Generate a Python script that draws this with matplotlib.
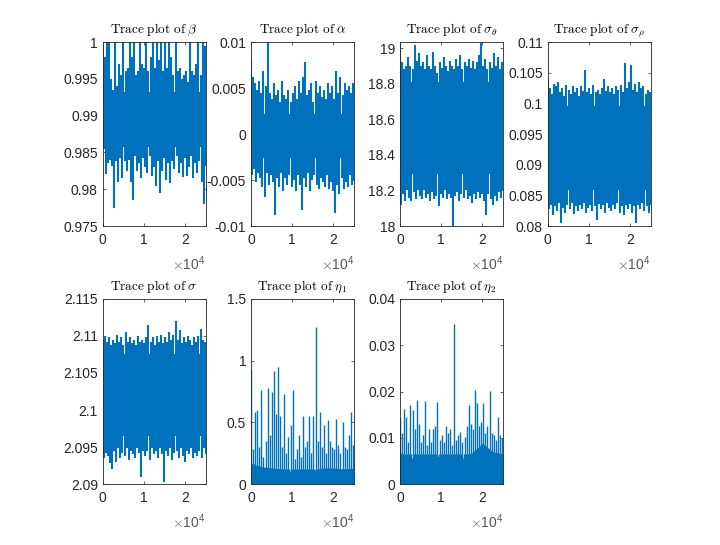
import numpy as np
import matplotlib
matplotlib.use("Agg")
from matplotlib import pyplot as plt

plt.rcParams["font.family"] = ["Liberation Sans", "DejaVu Sans"]
plt.rcParams["mathtext.fontset"] = "cm"

N_ITER = 25000
BLUE = "#0072BD"
AXIS_COLOR = "#262626"

beta_hi = [1.0, 0.998, 1.0, 1.0, 0.995, 0.9935, 1.0, 0.994, 0.997, 0.9955,
           1.0, 0.996, 0.9965, 1.0, 0.998, 1.0, 0.9955, 0.996, 1.0, 0.997,
           0.9965, 1.0, 0.996, 0.998, 1.0, 0.9965, 1.0, 0.9975, 1.0, 0.996,
           1.0, 0.9965, 1.0, 0.998, 0.9955, 1.0, 0.996, 0.9965, 0.995, 0.9955,
           0.996, 0.9945, 1.0, 0.996, 0.9955, 0.997, 1.0, 0.9955, 1.0, 0.9995]
beta_lo = [0.9855, 0.982, 0.9835, 0.984, 0.9832, 0.9775, 0.9838, 0.981, 0.9842, 0.9815,
           0.9838, 0.9825, 0.984, 0.981, 0.9785, 0.9845, 0.9825, 0.9835, 0.9815, 0.9843,
           0.983, 0.9822, 0.9845, 0.9818, 0.983, 0.9805, 0.9838, 0.9795, 0.9825, 0.9842,
           0.9812, 0.9835, 0.9808, 0.9838, 0.9828, 0.9845, 0.9822, 0.9835, 0.9817, 0.9842,
           0.9818, 0.983, 0.9845, 0.9815, 0.9835, 0.9822, 0.9838, 0.981, 0.978, 0.9832]
beta_core = ([0.9858], [0.9932])

alpha_hi = [0.0081, 0.0062, 0.0055, 0.0048, 0.0058, 0.0045, 0.0068, 0.0052, 0.0101, 0.0045,
            0.0038, 0.0055, 0.0042, 0.0048, 0.0035, 0.0058, 0.0042, 0.0038, 0.0048, 0.0035,
            0.0045, 0.0052, 0.0038, 0.0058, 0.0045, 0.0062, 0.0078, 0.0042, 0.0048, 0.0055,
            0.0035, 0.0058, 0.0045, 0.0052, 0.004, 0.0048, 0.0038, 0.0055, 0.0045, 0.0052,
            0.0038, 0.0068, 0.0045, 0.0062, 0.0042, 0.0055, 0.0048, 0.0052, 0.0045, 0.0055]
alpha_lo = [-0.0045, -0.0038, -0.0052, -0.0042, -0.0048, -0.0058, -0.0068, -0.0042, -0.0055, -0.0045,
            -0.0052, -0.0088, -0.0048, -0.0058, -0.0042, -0.0062, -0.0048, -0.0055, -0.0045, -0.0058,
            -0.005, -0.0062, -0.0045, -0.0055, -0.0083, -0.0048, -0.0058, -0.0042, -0.0062, -0.005,
            -0.0045, -0.0055, -0.006, -0.0048, -0.0052, -0.0058, -0.0045, -0.006, -0.0052, -0.0062,
            -0.0086, -0.0055, -0.0065, -0.0048, -0.006, -0.0052, -0.0058, -0.0045, -0.0055, -0.005]
alpha_core = ([-0.0026], [0.0022])

sig_theta_hi = [19.03, 18.92, 18.88, 18.9, 18.95, 18.9, 18.88, 19.02, 18.93, 18.97,
                18.9, 18.92, 18.88, 18.96, 18.9, 18.88, 18.98, 18.9, 18.86, 18.92,
                18.89, 18.95, 18.9, 18.87, 18.93, 18.9, 18.88, 18.94, 18.9, 18.96,
                18.88, 18.92, 18.9, 18.94, 18.89, 18.93, 18.88, 18.92, 18.96, 19.03,
                18.9, 18.94, 18.88, 18.92, 18.89, 18.97, 18.9, 18.95, 18.88, 18.92]
sig_theta_lo = [18.12, 18.18, 18.14, 18.2, 18.16, 18.14, 18.19, 18.15, 18.2, 18.17,
                18.15, 18.2, 18.16, 18.18, 18.14, 18.19, 18.15, 18.17, 18.11, 18.18,
                18.16, 18.2, 18.15, 18.18, 18.16, 18.0, 18.17, 18.19, 18.14, 18.18,
                18.16, 18.2, 18.15, 18.17, 18.13, 18.18, 18.15, 18.19, 18.16, 18.18,
                18.14, 18.06, 18.18, 18.15, 18.12, 18.17, 18.14, 18.19, 18.16, 18.2]
sig_theta_core = ([18.29], [18.81])

sig_rho_hi = [0.1042, 0.1025, 0.1015, 0.1032, 0.1028, 0.1035, 0.1018, 0.1025, 0.1012, 0.103,
              0.1022, 0.1015, 0.1028, 0.1018, 0.1025, 0.1012, 0.1028, 0.102, 0.1055, 0.1018,
              0.1025, 0.1015, 0.103, 0.1018, 0.1022, 0.1015, 0.1025, 0.104, 0.102, 0.1028,
              0.1018, 0.1025, 0.1015, 0.1028, 0.1022, 0.103, 0.1018, 0.1065, 0.1025, 0.1035,
              0.1062, 0.1022, 0.1032, 0.1018, 0.1035, 0.1025, 0.1028, 0.1015, 0.1022, 0.1018]
sig_rho_lo = [0.0828, 0.0835, 0.0818, 0.0832, 0.0825, 0.0838, 0.0805, 0.083, 0.0822, 0.0835,
              0.0828, 0.0838, 0.082, 0.0832, 0.0825, 0.0835, 0.0828, 0.0838, 0.0822, 0.083,
              0.0835, 0.0825, 0.0832, 0.081, 0.0836, 0.0828, 0.0835, 0.0822, 0.0838, 0.083,
              0.0825, 0.0835, 0.0828, 0.0838, 0.0822, 0.0832, 0.0818, 0.0835, 0.0828, 0.0836,
              0.0822, 0.0832, 0.0805, 0.0835, 0.0828, 0.0838, 0.0825, 0.0832, 0.0822, 0.0835]
sig_rho_core = ([0.0858], [0.0996])

sigma_hi = [2.1095, 2.11, 2.1092, 2.1098, 2.1088, 2.1095, 2.109, 2.1102, 2.1092, 2.1098,
            2.1088, 2.1105, 2.1092, 2.1098, 2.109, 2.1095, 2.1088, 2.11, 2.1092, 2.1095,
            2.109, 2.1098, 2.1115, 2.1092, 2.1098, 2.1088, 2.11, 2.1092, 2.1102, 2.109,
            2.1098, 2.1092, 2.1105, 2.1095, 2.1102, 2.112, 2.1095, 2.1108, 2.109, 2.1098,
            2.1092, 2.11, 2.1095, 2.1088, 2.1098, 2.1092, 2.11, 2.111, 2.1095, 2.1092]
sigma_lo = [2.0935, 2.0942, 2.0938, 2.0928, 2.092, 2.0945, 2.093, 2.0948, 2.0935, 2.0942,
            2.0938, 2.0948, 2.0932, 2.0945, 2.094, 2.0935, 2.0948, 2.0942, 2.091, 2.0945,
            2.0938, 2.0945, 2.0932, 2.0948, 2.094, 2.0945, 2.0935, 2.0948, 2.094, 2.0903,
            2.0945, 2.0938, 2.0948, 2.0932, 2.0942, 2.0945, 2.0935, 2.0948, 2.0938, 2.093,
            2.0945, 2.094, 2.0948, 2.0935, 2.0942, 2.0938, 2.0945, 2.0935, 2.0948, 2.094]
sigma_core = ([2.0965], [2.1075])

eta1_hi = [0.93, 0.28, 0.58, 0.6, 0.3, 0.76, 0.22, 0.35, 0.78, 0.4,
           0.75, 0.92, 0.57, 0.95, 0.55, 0.3, 0.73, 0.25, 0.38, 0.48,
           0.76, 0.2, 0.28, 0.4, 0.22, 0.55, 0.3, 0.35, 0.55, 0.25,
           0.55, 1.27, 0.35, 0.58, 0.3, 0.48, 0.25, 0.52, 0.35, 0.3,
           0.28, 0.53, 0.32, 0.25, 0.5, 0.3, 0.28, 0.4, 0.58, 0.32]
eta1_lo = [0.01, 0.004, 0.012, 0.002, 0.008, 0.015, 0.003, 0.01, 0.005, 0.012,
           0.002, 0.009, 0.006, 0.013, 0.003, 0.008, 0.011, 0.004, 0.007, 0.002,
           0.01, 0.005, 0.012, 0.003, 0.009, 0.006, 0.011, 0.002, 0.008, 0.004,
           0.012, 0.006, 0.003, 0.01, 0.005, 0.009, 0.002, 0.011, 0.006, 0.004,
           0.01, 0.003, 0.008, 0.012, 0.005, 0.009, 0.002, 0.007, 0.011, 0.004]
eta1_core = ([0.0] * 11, [0.17, 0.14, 0.13, 0.12, 0.1, 0.1, 0.11, 0.13, 0.13, 0.12, 0.13])

eta2_hi = [0.0145, 0.011, 0.0162, 0.0145, 0.009, 0.0171, 0.016, 0.012, 0.0182, 0.013,
           0.009, 0.0105, 0.018, 0.0085, 0.012, 0.009, 0.012, 0.0125, 0.0178, 0.0095,
           0.0105, 0.009, 0.0125, 0.011, 0.012, 0.0085, 0.0345, 0.0095, 0.0105, 0.0112,
           0.009, 0.0102, 0.0125, 0.017, 0.013, 0.012, 0.0204, 0.0175, 0.0125, 0.0135,
           0.0175, 0.011, 0.0125, 0.0201, 0.011, 0.0105, 0.0095, 0.0145, 0.0105, 0.01]
eta2_lo = [0.0004, 0.0001, 0.0006, 0.0002, 0.0005, 0.0003, 0.0007, 0.0001, 0.0004, 0.0006,
           0.0002, 0.0005, 0.0003, 0.0006, 0.0001, 0.0004, 0.0007, 0.0002, 0.0005, 0.0003,
           0.0006, 0.0001, 0.0004, 0.0002, 0.0005, 0.0003, 0.0006, 0.0001, 0.0004, 0.0007,
           0.0002, 0.0005, 0.0003, 0.0006, 0.0001, 0.0004, 0.0002, 0.0005, 0.0003, 0.0006,
           0.0001, 0.0004, 0.0007, 0.0002, 0.0005, 0.0003, 0.0006, 0.0001, 0.0004, 0.0002]
eta2_core = ([0.0] * 11, [0.0068, 0.0055, 0.006, 0.006, 0.006, 0.0055, 0.0055, 0.0068, 0.0088, 0.007, 0.0065])

titles = [r"$\mathrm{Trace\ plot\ of}\ \beta$",
          r"$\mathrm{Trace\ plot\ of}\ \alpha$",
          r"$\mathrm{Trace\ plot\ of}\ \sigma_\theta$",
          r"$\mathrm{Trace\ plot\ of}\ \sigma_\rho$",
          r"$\mathrm{Trace\ plot\ of}\ \sigma$",
          r"$\mathrm{Trace\ plot\ of}\ \eta_1$",
          r"$\mathrm{Trace\ plot\ of}\ \eta_2$"]

y_limits = [(0.975, 1.0), (-0.01, 0.01), (18.0, 19.034), (0.08, 0.11),
            (2.09, 2.115), (0.0, 1.5), (0.0, 0.04)]
y_ticks = [[0.975, 0.98, 0.985, 0.99, 0.995, 1.0],
           [-0.01, -0.005, 0.0, 0.005, 0.01],
           [18.0, 18.2, 18.4, 18.6, 18.8, 19.0],
           [0.08, 0.085, 0.09, 0.095, 0.1, 0.105, 0.11],
           [2.09, 2.095, 2.1, 2.105, 2.11, 2.115],
           [0.0, 0.5, 1.0, 1.5],
           [0.0, 0.01, 0.02, 0.03, 0.04]]
y_ticklabels = [["0.975", "0.98", "0.985", "0.99", "0.995", "1"],
                ["-0.01", "-0.005", "0", "0.005", "0.01"],
                ["18", "18.2", "18.4", "18.6", "18.8", "19"],
                ["0.08", "0.085", "0.09", "0.095", "0.1", "0.105", "0.11"],
                ["2.09", "2.095", "2.1", "2.105", "2.11", "2.115"],
                ["0", "0.5", "1", "1.5"],
                ["0", "0.01", "0.02", "0.03", "0.04"]]
x_ticks = [0, 10000, 20000]
x_ticklabels = ["0", "1", "2"]


def draw_trace(ax, hi, lo, core, spike_lw):
    # dense body of the chain
    core_lo, core_hi = core
    core_x = np.linspace(0, N_ITER, max(len(core_hi), 2))
    ax.fill_between(core_x, np.resize(core_lo, core_x.size), np.resize(core_hi, core_x.size),
                    color=BLUE, lw=0, zorder=2)
    # excursions: upper tips on even samples, lower tips on odd samples
    x = np.linspace(0, N_ITER, 2 * len(hi))
    base_up = np.mean(core_lo)
    base_dn = np.mean(core_hi)
    ax.vlines(x[0::2], base_up, hi, color=BLUE, lw=spike_lw, zorder=3)
    ax.vlines(x[1::2], lo, base_dn, color=BLUE, lw=spike_lw, zorder=3)


def style_axes(ax, title, ylim, yticks, yticklabels):
    ax.set_xlim(0, N_ITER)
    ax.set_ylim(*ylim)
    ax.set_xticks(x_ticks)
    ax.set_xticklabels(x_ticklabels)
    ax.set_yticks(yticks)
    ax.set_yticklabels(yticklabels)
    ax.tick_params(direction="in", length=2.5, width=0.5, colors=AXIS_COLOR,
                   labelsize=10, top=True, right=True)
    ax.tick_params(axis="x", pad=5)
    ax.tick_params(axis="y", pad=3.5)
    for side in ax.spines.values():
        side.set_linewidth(0.6)
        side.set_color(AXIS_COLOR)
        side.set_zorder(5)
    ax.set_title(title, fontsize=9.5, pad=6.5, color="black")
    ax.text(1.0, -0.205, r"$\times\mathregular{10^{4}}$", transform=ax.transAxes,
            ha="right", va="center", fontsize=10, color="#555555")


fig = plt.figure(figsize=(7.2, 5.45), dpi=100)

lefts = [0.1426, 0.3486, 0.5556, 0.7607]
panel_w = 0.1431
rows = [(0.5853, 0.3376), (0.1119, 0.3395)]

traces = [(beta_hi, beta_lo, beta_core),
          (alpha_hi, alpha_lo, alpha_core),
          (sig_theta_hi, sig_theta_lo, sig_theta_core),
          (sig_rho_hi, sig_rho_lo, sig_rho_core),
          (sigma_hi, sigma_lo, sigma_core),
          (eta1_hi, eta1_lo, eta1_core),
          (eta2_hi, eta2_lo, eta2_core)]

for i, (hi, lo, core) in enumerate(traces):
    bottom, height = rows[i // 4]
    ax = fig.add_axes([lefts[i % 4], bottom, panel_w, height])
    # the eta chains sit on zero with isolated excursions, so thinner spikes there
    draw_trace(ax, hi, lo, core, 1.5 if i < 5 else 1.0)
    style_axes(ax, titles[i], y_limits[i], y_ticks[i], y_ticklabels[i])

fig.savefig("out.png", dpi=100)
